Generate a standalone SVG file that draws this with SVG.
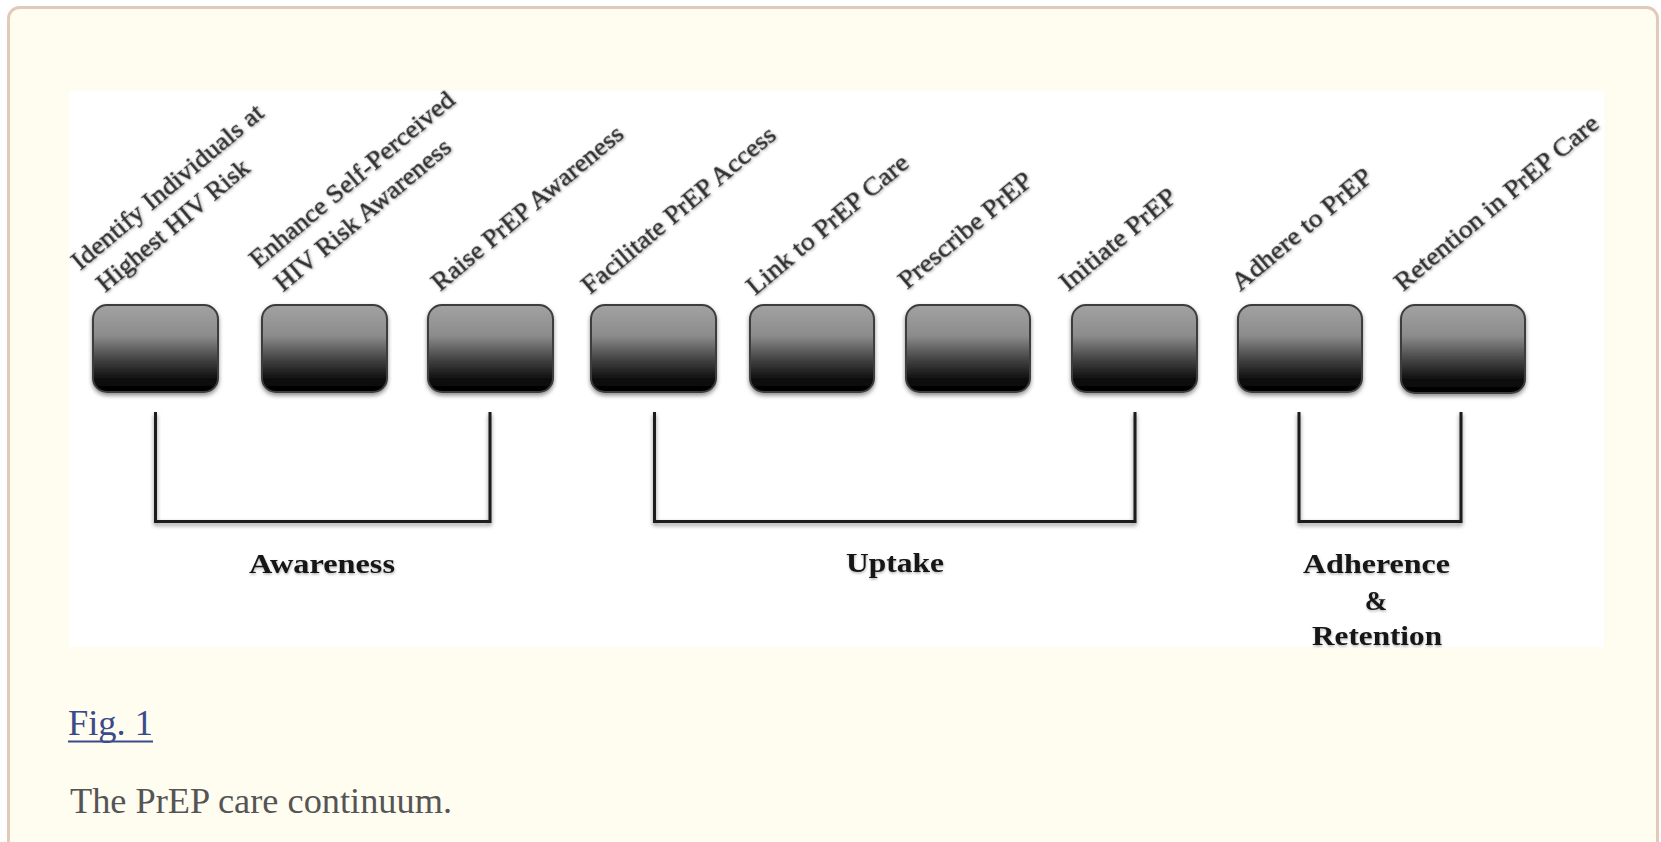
<svg xmlns="http://www.w3.org/2000/svg" width="1661" height="842" viewBox="0 0 1661 842">
  <defs>
    <linearGradient id="boxGrad" x1="0" y1="0" x2="0" y2="1">
      <stop offset="0" stop-color="#a2a2a2"/>
      <stop offset="0.35" stop-color="#8c8c8c"/>
      <stop offset="0.62" stop-color="#454545"/>
      <stop offset="0.85" stop-color="#0e0e0e"/>
      <stop offset="1" stop-color="#000"/>
    </linearGradient>
    <filter id="shadow" x="-10%" y="-10%" width="120%" height="130%">
      <feDropShadow dx="0" dy="2.5" stdDeviation="2" flood-color="#000" flood-opacity="0.45"/>
    </filter>
    <filter id="tshadow" x="-5%" y="-20%" width="110%" height="150%">
      <feDropShadow dx="0.5" dy="1.5" stdDeviation="1.2" flood-color="#000" flood-opacity="0.3"/>
    </filter>
    <style>
      .box { fill: url(#boxGrad); stroke: #3c3c3c; stroke-width: 2; filter: url(#shadow); }
      .lbl { font-family: "Liberation Serif", "Times New Roman", serif; font-size: 26px; fill: #2e2e2e; stroke: #2e2e2e; stroke-width: 0.4; filter: url(#tshadow); }
      .grp { font-family: "Liberation Serif", "Times New Roman", serif; font-size: 27px; font-weight: bold; fill: #141414; filter: url(#tshadow); }
      .br { fill: none; stroke: #1c1c1c; stroke-width: 3; filter: url(#shadow); }
      .cap { font-family: "Liberation Serif", "Times New Roman", serif; font-size: 36px; }
    </style>
  </defs>

  <rect x="0" y="0" width="1661" height="842" fill="#ffffff"/>
  <rect x="8.5" y="7.5" width="1649" height="900" rx="11" fill="#fffcf0" stroke="#e2cab9" stroke-width="3"/>
  <rect x="69" y="91" width="1535" height="556" fill="#ffffff"/>

  <g id="connectors">
    <path class="br" d="M155.5,412 V521.5 H490 V412"/>
    <path class="br" d="M654.5,412 V521.5 H1135 V412"/>
    <path class="br" d="M1299,412 V521.5 H1461 V412"/>
  </g>

  <g id="n1">
    <rect class="box" x="93" y="305" width="125" height="87" rx="14"/>
    <g transform="translate(80,271) rotate(-40)">
      <text class="lbl" x="0" y="0" textLength="242" lengthAdjust="spacingAndGlyphs">Identify Individuals at</text>
      <text class="lbl" x="5" y="33" textLength="191" lengthAdjust="spacingAndGlyphs">Highest HIV Risk</text>
    </g>
  </g>
  <g id="n2">
    <rect class="box" x="262" y="305" width="125" height="87" rx="14"/>
    <g transform="translate(258,269) rotate(-40)">
      <text class="lbl" x="0" y="0" textLength="259" lengthAdjust="spacingAndGlyphs">Enhance Self-Perceived</text>
      <text class="lbl" x="4" y="34" textLength="222" lengthAdjust="spacingAndGlyphs">HIV Risk Awareness</text>
    </g>
  </g>
  <g id="n3">
    <rect class="box" x="428" y="305" width="125" height="87" rx="14"/>
    <text class="lbl" transform="translate(440,292) rotate(-40)" textLength="242" lengthAdjust="spacingAndGlyphs">Raise PrEP Awareness</text>
  </g>
  <g id="n4">
    <rect class="box" x="591" y="305" width="125" height="87" rx="14"/>
    <text class="lbl" transform="translate(590,295) rotate(-40)" textLength="245" lengthAdjust="spacingAndGlyphs">Facilitate PrEP Access</text>
  </g>
  <g id="n5">
    <rect class="box" x="750" y="305" width="124" height="87" rx="14"/>
    <text class="lbl" transform="translate(755,296) rotate(-40)" textLength="203" lengthAdjust="spacingAndGlyphs">Link to PrEP Care</text>
  </g>
  <g id="n6">
    <rect class="box" x="906" y="305" width="124" height="87" rx="14"/>
    <text class="lbl" transform="translate(907,290) rotate(-40)" textLength="166" lengthAdjust="spacingAndGlyphs">Prescribe PrEP</text>
  </g>
  <g id="n7">
    <rect class="box" x="1072" y="305" width="125" height="87" rx="14"/>
    <text class="lbl" transform="translate(1068,292) rotate(-40)" textLength="144" lengthAdjust="spacingAndGlyphs">Initiate PrEP</text>
  </g>
  <g id="n8">
    <rect class="box" x="1238" y="305" width="124" height="87" rx="14"/>
    <text class="lbl" transform="translate(1240,292) rotate(-40)" textLength="175" lengthAdjust="spacingAndGlyphs">Adhere to PrEP</text>
  </g>
  <g id="n9">
    <rect class="box" x="1401" y="305" width="124" height="88" rx="14"/>
    <text class="lbl" transform="translate(1403,292) rotate(-40)" textLength="258" lengthAdjust="spacingAndGlyphs">Retention in PrEP Care</text>
  </g>

  <g id="g-awareness">
    <text class="grp" x="249" y="573" textLength="146" lengthAdjust="spacingAndGlyphs">Awareness</text>
  </g>
  <g id="g-uptake">
    <text class="grp" x="846" y="572" textLength="98" lengthAdjust="spacingAndGlyphs">Uptake</text>
  </g>
  <g id="g-adherence">
    <text class="grp" x="1303" y="573" textLength="147" lengthAdjust="spacingAndGlyphs">Adherence</text>
    <text class="grp" x="1376" y="610" text-anchor="middle">&amp;</text>
    <text class="grp" x="1312" y="645" textLength="130" lengthAdjust="spacingAndGlyphs">Retention</text>
  </g>

  <g id="caption">
    <text class="cap" x="68" y="735" fill="#3a4a8a" textLength="85" lengthAdjust="spacingAndGlyphs">Fig. 1</text>
    <line x1="68" y1="741.5" x2="153" y2="741.5" stroke="#3a4a8a" stroke-width="2"/>
    <text class="cap" x="70" y="812.5" fill="#555555" textLength="382" lengthAdjust="spacingAndGlyphs">The PrEP care continuum.</text>
  </g>
</svg>
